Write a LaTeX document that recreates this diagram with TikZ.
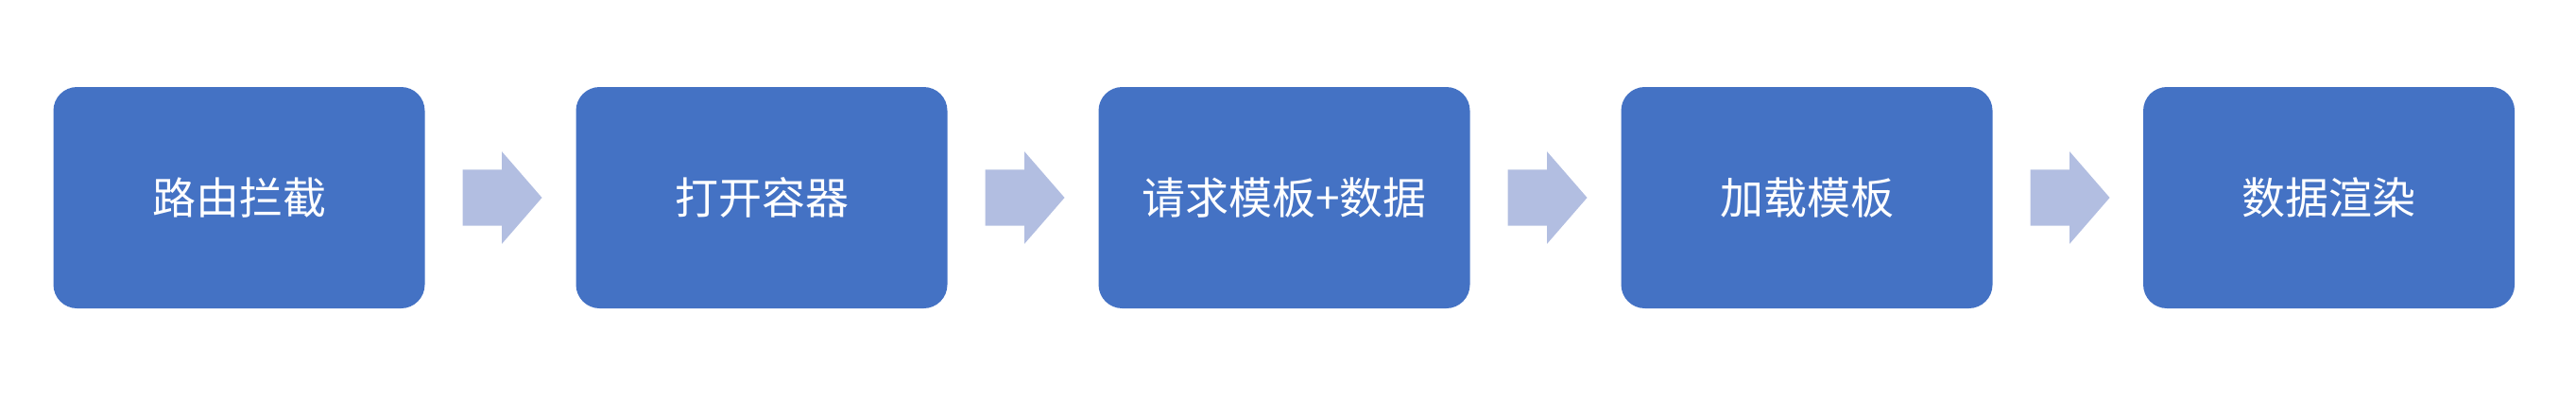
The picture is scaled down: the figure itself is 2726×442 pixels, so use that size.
\documentclass[tikz,border=0pt]{standalone}
\usepackage{fontspec}
\newfontfamily\cjk{Noto Sans CJK SC}
\usetikzlibrary{positioning,shapes.arrows}
\definecolor{stepblue}{RGB}{68,114,196}
\definecolor{flowblue}{RGB}{178,190,225}
\tikzstyle{box} = [rectangle, rounded corners=25pt, fill=stepblue, text=white, minimum width=393pt, minimum height=234pt, inner sep=0pt, outer sep=0pt, font=\cjk\fontsize{46}{54}\selectfont]

\begin{document}
\begin{tikzpicture}[x=1pt,y=-1pt,
		flow/.style={single arrow, fill=flowblue, inner xsep=0pt, inner ysep=29.5pt, outer sep=0pt,
			minimum height=84pt,
			single arrow head extend=19pt, single arrow tip angle=98}]
		\useasboundingbox (0,0) rectangle (2726,442);
		\node (route) [box] at (253,209) {路由拦截};
		\node (a1) [flow, right=40pt of route] {};
		\node (open) [box, right=36pt of a1] {打开容器};
		\node (a2) [flow, right=40pt of open] {};
		\node (req) [box, right=36pt of a2] {请求模板+数据};
		\node (a3) [flow, right=40pt of req] {};
		\node (load) [box, right=36pt of a3] {加载模板};
		\node (a4) [flow, right=40pt of load] {};
		\node (render) [box, right=35.5pt of a4] {数据渲染};
	\end{tikzpicture}
\end{document}
